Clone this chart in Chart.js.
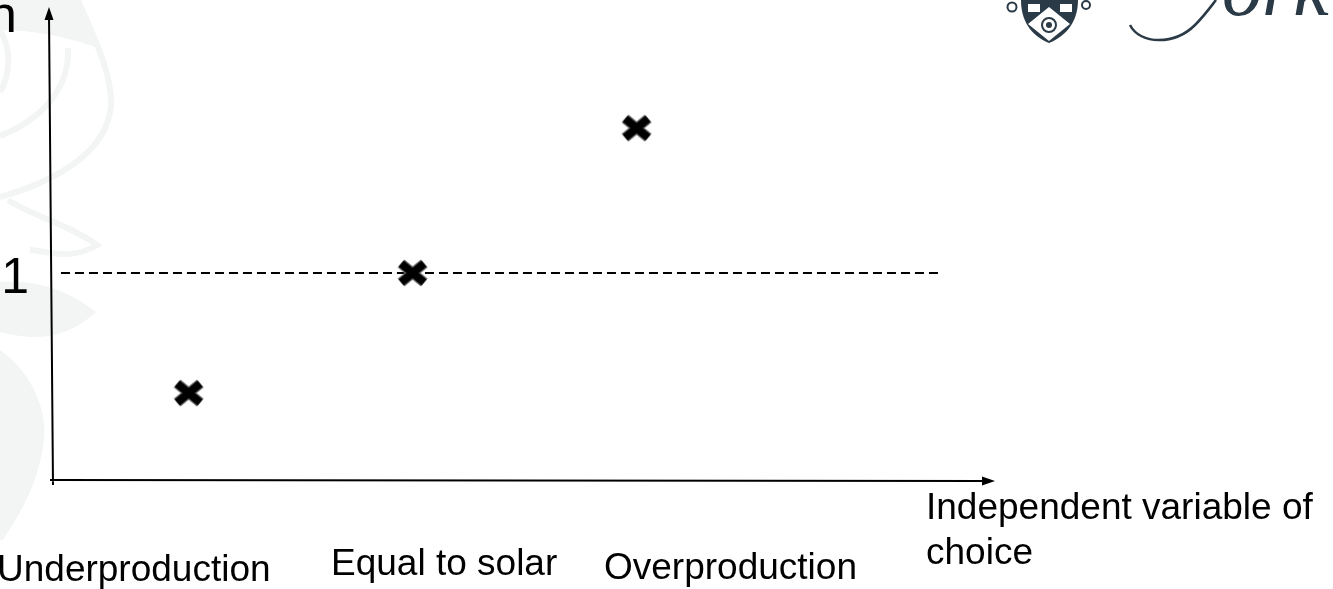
<!DOCTYPE html>
<html>
<head>
<meta charset="utf-8">
<style>
  html, body { margin: 0; padding: 0; background: #fff; overflow: hidden; }
  #wrap { width: 1333px; height: 589px; }
</style>
<script src="https://cdn.jsdelivr.net/npm/chart.js@4/dist/chart.umd.min.js"></script>
</head>
<body>
<div id="wrap"><canvas id="chart"></canvas></div>
<script>
// values
const pointX = [1, 2, 3];
const pointY = [0.42, 1, 1.7];
const refLineX = [0.43, 4.35];
const refLineY = [1, 1];
const yTicks = [1];
const categories = ['Underproduction', 'Equal to solar', 'Overproduction'];
const xAxisTitle = ['Independent variable of', 'choice'];
const yAxisTitle = 'n';

const FONT = '"Liberation Sans", Arial, sans-serif';
const INK = '#000';

// thick X marker, slightly flattened, with a grey edge
function makeMarker() {
  const c = document.createElement('canvas');
  c.width = 36; c.height = 32;
  const g = c.getContext('2d');
  g.translate(18, 16);
  const cross = (w, col) => {
    g.strokeStyle = col;
    g.lineWidth = w;
    g.beginPath();
    g.moveTo(-11.5, -9.5); g.lineTo(11.5, 9.5);
    g.moveTo(11.5, -9.5); g.lineTo(-11.5, 9.5);
    g.stroke();
  };
  cross(10.5, '#6a6a6a');
  cross(8, '#000');
  return c;
}

function arrowHead(ctx, x, y, dx, dy) {
  // tip at x,y pointing along dx,dy
  const len = 13, half = 4.5;
  ctx.beginPath();
  ctx.moveTo(x, y);
  ctx.lineTo(x - dx * len - dy * half, y - dy * len - dx * half);
  ctx.lineTo(x - dx * len + dy * half, y - dy * len + dx * half);
  ctx.closePath();
  ctx.fill();
}

// pale leaf watermark behind the plot
const backdrop = {
  id: 'backdrop',
  beforeDraw(chart) {
    const ctx = chart.ctx;
    ctx.save();
    ctx.strokeStyle = '#f3f5f4';
    ctx.fillStyle = '#f3f5f4';
    ctx.lineWidth = 6;
    ctx.beginPath();
    ctx.moveTo(78, 0);
    ctx.bezierCurveTo(90, 30, 112, 70, 111, 105);
    ctx.bezierCurveTo(108, 150, 60, 180, 0, 197);
    ctx.stroke();
    ctx.beginPath();
    ctx.moveTo(68, 48);
    ctx.bezierCurveTo(70, 90, 40, 120, 0, 136);
    ctx.stroke();
    ctx.beginPath();
    ctx.moveTo(0, 30);
    ctx.bezierCurveTo(12, 50, 10, 75, 0, 92);
    ctx.stroke();
    ctx.beginPath();
    ctx.moveTo(8, 200);
    ctx.bezierCurveTo(30, 215, 70, 225, 97, 245);
    ctx.bezierCurveTo(70, 262, 45, 250, 30, 250);
    ctx.stroke();
    // filled lobes
    ctx.beginPath();
    ctx.moveTo(0, 0);
    ctx.lineTo(78, 0);
    ctx.bezierCurveTo(85, 20, 90, 35, 95, 47);
    ctx.bezierCurveTo(60, 35, 30, 30, 0, 30);
    ctx.fill();
    ctx.beginPath();
    ctx.moveTo(0, 282);
    ctx.bezierCurveTo(40, 278, 75, 295, 96, 312);
    ctx.bezierCurveTo(60, 345, 25, 338, 0, 332);
    ctx.fill();
    ctx.beginPath();
    ctx.moveTo(0, 350);
    ctx.bezierCurveTo(30, 370, 48, 410, 44, 440);
    ctx.bezierCurveTo(38, 490, 15, 520, 3, 540);
    ctx.lineTo(0, 540);
    ctx.fill();
    ctx.restore();
  }
};

// crest and script from the corner logo
const logo = {
  id: 'logo',
  afterDraw(chart) {
    const ctx = chart.ctx;
    ctx.save();
    const dark = '#2b3a47';
    ctx.fillStyle = dark;
    ctx.strokeStyle = dark;
    // shield
    ctx.beginPath();
    ctx.moveTo(1021, 0);
    ctx.lineTo(1078, 0);
    ctx.bezierCurveTo(1078, 20, 1068, 35, 1049, 43);
    ctx.bezierCurveTo(1030, 35, 1021, 20, 1021, 0);
    ctx.fill();
    ctx.fillStyle = '#fff';
    ctx.beginPath();
    ctx.moveTo(1049, 7); ctx.lineTo(1070, 24); ctx.lineTo(1049, 41); ctx.lineTo(1028, 24);
    ctx.closePath();
    ctx.fill();
    ctx.fillRect(1028, 4, 12, 8);
    ctx.fillRect(1060, 4, 12, 8);
    ctx.strokeStyle = dark;
    ctx.lineWidth = 2;
    ctx.beginPath(); ctx.arc(1049, 25, 7, 0, Math.PI * 2); ctx.stroke();
    ctx.fillStyle = dark;
    ctx.beginPath(); ctx.arc(1049, 25, 3, 0, Math.PI * 2); ctx.fill();
    ctx.lineWidth = 2;
    ctx.beginPath(); ctx.arc(1012, 7, 4.5, 0, Math.PI * 2); ctx.stroke();
    ctx.beginPath(); ctx.arc(1086, 5, 4, 0, Math.PI * 2); ctx.stroke();
    // script tail
    ctx.lineWidth = 2.5;
    ctx.beginPath();
    ctx.moveTo(1130, 25);
    ctx.bezierCurveTo(1140, 45, 1175, 45, 1195, 25);
    ctx.bezierCurveTo(1205, 15, 1212, 5, 1216, 0);
    ctx.stroke();
    ctx.font = 'italic 80px "Liberation Serif", serif';
    ctx.textAlign = 'left';
    ctx.textBaseline = 'alphabetic';
    ctx.fillText('ork', 1222, 15);
    ctx.restore();
  }
};

// axis lines and the hand-placed labels
const axes = {
  id: 'axes',
  afterDatasetsDraw(chart) {
    const ctx = chart.ctx;
    const { left, right, top, bottom } = chart.chartArea;
    ctx.save();
    ctx.strokeStyle = INK;
    ctx.fillStyle = INK;
    ctx.lineWidth = 2;
    // the axes lean a little in the source
    ctx.beginPath();
    ctx.moveTo(left - 3, top + 8);
    ctx.lineTo(left + 1, bottom + 5);
    ctx.moveTo(left - 2, bottom);
    ctx.lineTo(right - 8, bottom + 1);
    ctx.stroke();
    arrowHead(ctx, left - 3, top - 1, 0, -1);
    arrowHead(ctx, right, bottom + 1, 1, 0);

    ctx.textBaseline = 'alphabetic';
    ctx.textAlign = 'left';
    ctx.font = '52px ' + FONT;
    ctx.fillText(yAxisTitle, -12, 32);

    // y tick labels sit on the scale, just left of the axis
    ctx.font = '50px ' + FONT;
    ctx.textAlign = 'right';
    yTicks.forEach(v => {
      ctx.fillText(String(v), left - 23, chart.scales.y.getPixelForValue(v) + 20);
    });
    ctx.textAlign = 'left';

    ctx.font = '37px ' + FONT;
    ctx.fillText(categories[0], -3, 581);
    ctx.fillText(categories[1], 331, 575);
    ctx.fillText(categories[2], 604, 579);
    ctx.fillText(xAxisTitle[0], 926, 519);
    ctx.fillText(xAxisTitle[1], 926, 564);
    ctx.restore();
  }
};

new Chart(document.getElementById('chart'), {
  type: 'scatter',
  data: {
    datasets: [{
      label: 'Reference',
      type: 'line',
      data: refLineX.map((x, i) => ({ x: x, y: refLineY[i] })),
      borderColor: INK,
      borderWidth: 2,
      borderDash: [9, 5],
      pointRadius: 0,
      fill: false,
      order: 2
    }, {
      label: 'Ratio',
      data: pointX.map((x, i) => ({ x: x, y: pointY[i] })),
      pointStyle: makeMarker(),
      pointRadius: 15,
      order: 1
    }]
  },
  options: {
    responsive: true,
    maintainAspectRatio: false,
    animation: false,
    layout: { autoPadding: false, padding: { left: 0, right: 338, top: 8, bottom: 109 } },
    plugins: {
      legend: { display: false },
      tooltip: { enabled: false }
    },
    scales: {
      x: {
        type: 'linear',
        min: 0.39,
        max: 4.6,
        grid: { display: false },
        border: { display: false },
        ticks: { display: false },
        afterFit: s => { s.height = 0; }
      },
      y: {
        type: 'linear',
        min: 0,
        max: 2.28,
        grid: { display: false },
        border: { display: false },
        ticks: { display: false },
        afterFit: s => { s.width = 52; }
      }
    }
  },
  plugins: [backdrop, axes, logo]
});
</script>
</body>
</html>
